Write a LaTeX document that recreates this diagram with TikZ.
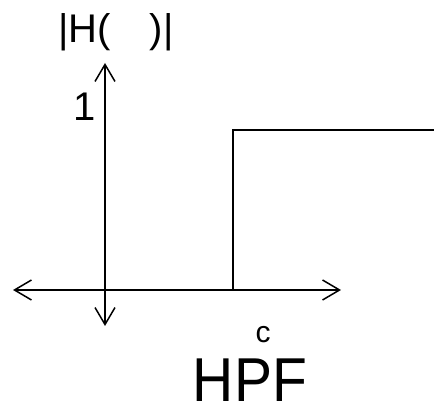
\documentclass[tikz,border=0pt]{standalone}
\usepackage{fontspec}
\setmainfont{Liberation Sans}
\usepackage{tikz}
\usetikzlibrary{arrows.meta, positioning}

\begin{document}
\begin{tikzpicture}[
    x=1pt, y=1pt,
    axis/.style={line width=1.5pt, {Straight Barb[length=17pt, width=20pt, line width=1.5pt]}-{Straight Barb[length=17pt, width=20pt, line width=1.5pt]}},
    response/.style={line width=1.5pt},
    label/.style={inner sep=0pt, font=\fontsize{40}{40}\selectfont},
    title/.style={inner sep=0pt, font=\fontsize{62}{62}\selectfont, xscale=0.92, transform shape}
]
    % Canvas
    \useasboundingbox (0, 0) rectangle (434, 415);

    % Axis ends
    \coordinate (xl) at (13, 125);
    \coordinate (xr) at (341, 125);
    \coordinate (yt) at (105, 352);
    \coordinate (yb) at (105, 89);

    % Cut-off and pass band
    \coordinate (wc) at (233, 125);
    \coordinate (wct) at (233, 285);
    \coordinate (pe) at (434, 285);

    \draw[axis] (xl) -- (xr);
    \draw[axis] (yb) -- (yt);

    \draw[response] (wc) -- (wct) -- (pe);

    % Labels
    \node [label, anchor=base west] (mag) at (58, 372) {|H(\hspace{39pt})|};
    \node [label, anchor=base east] (one) at (96, 294) {1};
    \node [inner sep=0pt, font=\fontsize{30}{30}\selectfont, anchor=base] (cut) at (263, 72) {c};
    \node [title, anchor=base] (hpf) at (250, 13) {HPF};

\end{tikzpicture}
\end{document}
